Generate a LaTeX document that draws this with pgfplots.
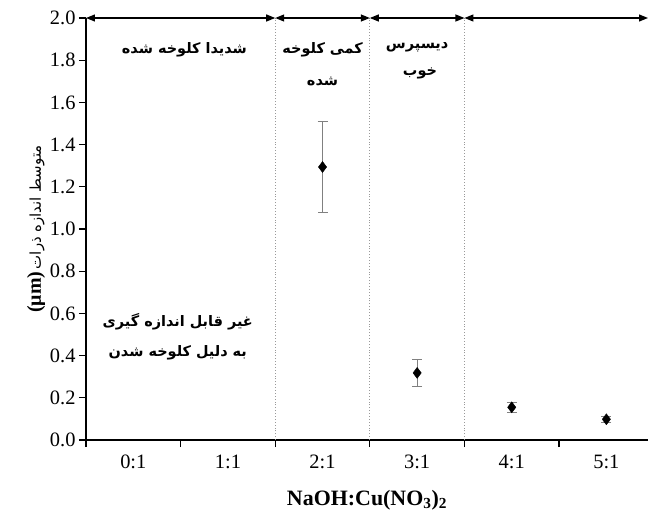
\documentclass[border=0pt]{standalone}
\usepackage{pgfplots}
\pgfplotsset{compat=1.18}
\usetikzlibrary{arrows.meta,calc}
\usepackage{fontspec}
\setmainfont{Liberation Serif}
\newfontfamily\fa[Script=Arabic]{DejaVu Sans}
\TeXXeTstate=1
\begin{document}
\begin{tikzpicture}
\begin{axis}[
 scale only axis, width=562bp, height=422bp,
 xmin=-0.5, xmax=5.44, ymin=0, ymax=2.0,
 axis x line*=bottom, axis y line*=left,
 axis line style={line width=1.2pt},
 clip=false,
 xtick={-0.5,0.5,1.5,2.5,3.5,4.5}, xticklabels={},
 extra x ticks={0,1,2,3,4,5},
 extra x tick labels={0:1,1:1,2:1,3:1,4:1,5:1},
 extra x tick style={major tick length=0pt},
 ytick={0,0.2,0.4,0.6,0.8,1.0,1.2,1.4,1.6,1.8,2.0},
 tick align=outside, major tick length=7bp,
 tick style={black, line width=1.2pt},
 yticklabel style={/pgf/number format/.cd, fixed, fixed zerofill, precision=1, assume math mode=true},
 ticklabel style={font=\fontsize{20.5}{23}\selectfont},
 x tick label style={yshift=-11bp},
 xlabel={\textbf{NaOH:Cu(NO\textsubscript{3})\textsubscript{2}}},
 xlabel style={font=\fontsize{22}{24}\selectfont, yshift=-8bp},
 ylabel={{\fontsize{20}{22}\selectfont\bfseries(μm)} {\fa\fontsize{15}{17}\selectfont\beginR متوسط اندازه ذرات\endR}},
 ylabel style={yshift=-2bp},
]
\addplot[only marks, mark=diamond*, mark size=5.5bp, black,
  error bars/.cd, y dir=both, y explicit,
  error bar style={gray, line width=0.7pt},
  error mark options={rotate=90, mark size=5bp, gray, line width=0.7pt}]
  coordinates {(2,1.294) +- (0,0.214) (3,0.318) +- (0,0.065) (4,0.155) +- (0,0.022) (5,0.098) +- (0,0.012)};
\draw[gray!80, dotted, line width=0.9pt] (axis cs:1.5,0) -- (axis cs:1.5,2);
\draw[gray!80, dotted, line width=0.9pt] (axis cs:2.5,0) -- (axis cs:2.5,2);
\draw[gray!80, dotted, line width=0.9pt] (axis cs:3.5,0) -- (axis cs:3.5,2);
\tikzset{dbl/.style={{Triangle[length=9bp,width=7bp]}-{Triangle[length=9bp,width=7bp]}, line width=1.2pt, black}}
\draw[dbl] (axis cs:-0.5,2) -- (axis cs:1.5,2);
\draw[dbl] (axis cs:1.5,2) -- (axis cs:2.5,2);
\draw[dbl] (axis cs:2.5,2) -- (axis cs:3.5,2);
\draw[dbl] (axis cs:3.5,2) -- (axis cs:5.44,2);
\tikzset{fat/.style={font=\fa\bfseries\fontsize{14.5}{16}\selectfont}}
\node[fat] at (axis cs:0.54,1.85) {\beginR شدیدا کلوخه شده\endR};
\node[fat] at (axis cs:2.0,1.85) {\beginR کمی کلوخه\endR};
\node[fat] at (axis cs:2.0,1.70) {\beginR شده\endR};
\node[fat] at (axis cs:3.0,1.86) {\beginR دیسپرس\endR};
\node[fat] at (axis cs:3.03,1.735) {\beginR خوب\endR};
\node[fat] at (axis cs:0.47,0.56) {\beginR غیر قابل اندازه گیری\endR};
\node[fat] at (axis cs:0.47,0.415) {\beginR به دلیل کلوخه شدن\endR};
\end{axis}
\pgfresetboundingbox
\path[use as bounding box] ($(current axis.south west)+(-86bp,-75bp)$) rectangle ($(current axis.north east)+(0bp,18bp)$);
\end{tikzpicture}
\end{document}
